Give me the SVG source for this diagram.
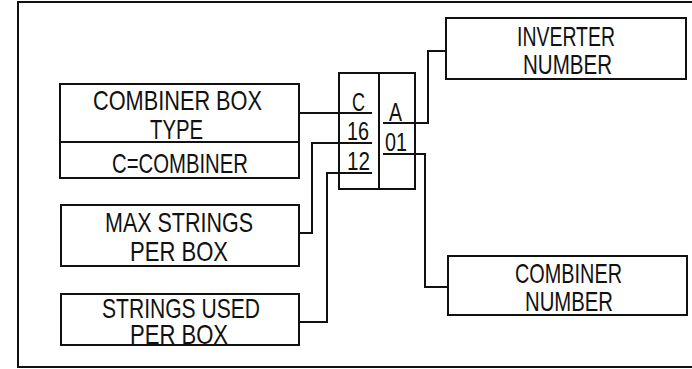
<svg xmlns="http://www.w3.org/2000/svg" width="692" height="369" viewBox="0 0 692 369">
<style>
.box{fill:none;stroke:#111;stroke-width:2}
.ln{fill:none;stroke:#111;stroke-width:2}
.t{font-family:"Liberation Sans","DejaVu Sans",sans-serif;font-size:28px;fill:#111}
.s{font-family:"Liberation Sans","DejaVu Sans",sans-serif;font-size:25px;fill:#111}
</style>
<rect width="692" height="369" fill="#fff"/>
<g id="frame"><path class="ln" d="M692,2 H18 V367 H692"/></g>
<g id="combiner-box-type">
<rect class="box" x="60" y="84" width="239" height="94"/>
<line class="ln" x1="60" y1="142" x2="299" y2="142"/>
<text class="t" x="93" y="110" textLength="169" lengthAdjust="spacingAndGlyphs">COMBINER BOX</text>
<text class="t" x="150" y="139" textLength="53" lengthAdjust="spacingAndGlyphs">TYPE</text>
<text class="t" x="112" y="173" textLength="136" lengthAdjust="spacingAndGlyphs">C=COMBINER</text>
</g>
<g id="max-strings">
<rect class="box" x="61" y="205" width="238" height="61"/>
<text class="t" x="105" y="232" textLength="148" lengthAdjust="spacingAndGlyphs">MAX STRINGS</text>
<text class="t" x="130" y="261" textLength="98" lengthAdjust="spacingAndGlyphs">PER BOX</text>
</g>
<g id="strings-used">
<rect class="box" x="61" y="294" width="238" height="51"/>
<text class="t" x="102" y="318" textLength="158" lengthAdjust="spacingAndGlyphs">STRINGS USED</text>
<text class="t" x="130" y="344" textLength="98" lengthAdjust="spacingAndGlyphs">PER BOX</text>
</g>
<g id="code">
<rect class="box" x="339" y="73" width="76" height="116"/>
<line class="ln" x1="379" y1="73" x2="379" y2="189"/>
<text class="s" x="352" y="111" textLength="13" lengthAdjust="spacingAndGlyphs">C</text>
<text class="s" x="347" y="140" textLength="22" lengthAdjust="spacingAndGlyphs">16</text>
<text class="s" x="347" y="170" textLength="23" lengthAdjust="spacingAndGlyphs">12</text>
<text class="s" x="389" y="121" textLength="13" lengthAdjust="spacingAndGlyphs">A</text>
<text class="s" x="385" y="151" textLength="22" lengthAdjust="spacingAndGlyphs">01</text>
</g>
<g id="inverter-number">
<rect class="box" x="446" y="18" width="240" height="61"/>
<text class="t" x="517" y="46" textLength="98" lengthAdjust="spacingAndGlyphs">INVERTER</text>
<text class="t" x="523" y="74" textLength="89" lengthAdjust="spacingAndGlyphs">NUMBER</text>
</g>
<g id="combiner-number">
<rect class="box" x="448" y="256" width="239" height="59"/>
<text class="t" x="515" y="283" textLength="107" lengthAdjust="spacingAndGlyphs">COMBINER</text>
<text class="t" x="525" y="311" textLength="88" lengthAdjust="spacingAndGlyphs">NUMBER</text>
</g>
<g id="connectors">
<path class="ln" d="M299,113 H372"/>
<path class="ln" d="M299,233 H312 V143 H372"/>
<path class="ln" d="M299,322 H327 V173 H372"/>
<path class="ln" d="M383,123 H428 V51 H446"/>
<path class="ln" d="M383,154 H425 V287 H448"/>
</g>
</svg>
